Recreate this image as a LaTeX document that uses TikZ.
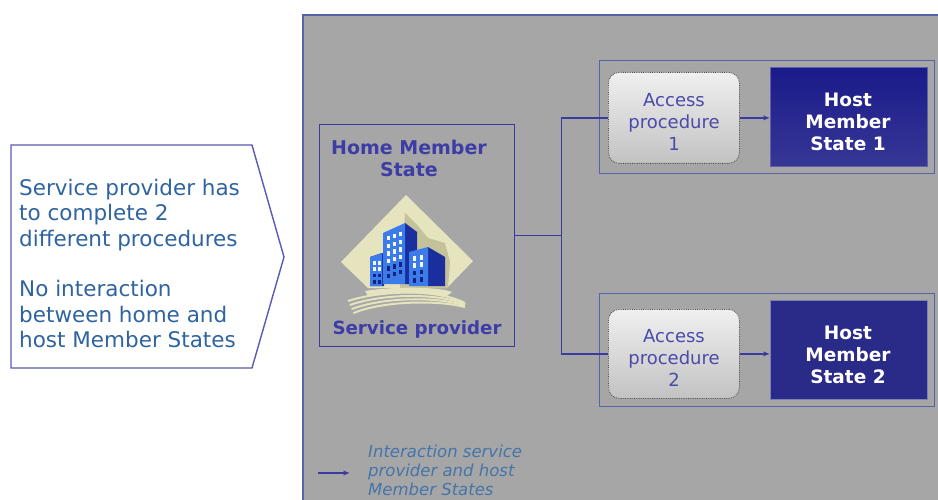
\documentclass[tikz,border=0pt]{standalone}
\usepackage{fontspec}
\setmainfont{DejaVu Sans}
\usetikzlibrary{arrows.meta}
\definecolor{panelgray}{HTML}{A6A6A6}
\definecolor{panelblue}{HTML}{5563A8}
\definecolor{linkblue}{HTML}{3A3AA0}
\definecolor{txtblue}{HTML}{2F64A0}
\definecolor{homeblue}{HTML}{3D3DA5}
\definecolor{accblue}{HTML}{4A4AAA}
\definecolor{navyA}{HTML}{1A1A8A}
\definecolor{navyB}{HTML}{2A2A88}
\definecolor{beige}{HTML}{E6E4BE}
\definecolor{olive}{HTML}{C4C29A}
\definecolor{bldlight}{HTML}{3B7BEA}
\definecolor{blddark}{HTML}{1A2E9E}
\definecolor{winlit}{HTML}{F4F8FF}
\definecolor{windark}{HTML}{13247E}
\tikzset{
  link/.style={draw=linkblue, line width=1.4pt},
  arrowlink/.style={link, -{Latex[length=6.5pt,width=5.5pt]}},
  groupbox/.style={draw=panelblue, line width=1.2pt, anchor=north west, inner sep=0pt},
  accbox/.style={draw=black!70, densely dotted, line width=0.8pt, rounded corners=11pt,
     top color=white!94!black, bottom color=white!76!black, anchor=north west, inner sep=0pt},
  hostbox/.style={anchor=north west, inner sep=0pt},
  acctext/.style={text=accblue, align=center, font=\fontsize{18}{22}\selectfont},
  hosttext/.style={text=white, align=center, font=\bfseries\fontsize{18.5}{22}\selectfont},
}
\begin{document}
\begin{tikzpicture}[x=1pt,y=-1pt]
\useasboundingbox (0,0) rectangle (938,500);
% panel
\fill[panelgray] (303,15) rectangle (938,500);
\draw[panelblue, line width=1.2pt] (303,500) -- (303,15) -- (938,15);
% callout
\draw[draw=homeblue!85, line width=1.4pt, fill=white] (11,145) -- (252,145) -- (284,257) -- (252,368) -- (11,368) -- cycle;
\node[anchor=north west, inner sep=0pt, align=left, text=txtblue, font=\fontsize{21.5}{25.3}\selectfont] (note) at (19,179)
 {Service provider has\\to complete 2\\different procedures\\[25.3pt]No interaction\\between home and\\host Member States};
% home box
\node[draw=linkblue, line width=1.3pt, minimum width=195pt, minimum height=222pt, anchor=north west, inner sep=0pt] (home) at (319,124) {};
\node[text=homeblue, align=center, font=\bfseries\fontsize{19}{22}\selectfont] (hometitle) at (409,158) {Home Member\\State};
\node[text=homeblue, font=\bfseries\fontsize{18.2}{20}\selectfont] (sp) at (417,329) {Service provider};
% building icon
\fill[beige] (406,195) -- (473,261) -- (447,288) -- (368,288) -- (341,262) -- cycle;
\fill[olive] (405,213) -- (418,226) -- (428,238) -- (445,243) -- (450,262) -- (448,288) -- (400,288) -- cycle;
% left building
\fill[blddark] (370,257) -- (382,253) -- (384,254) -- (384,286) -- (370,286) -- cycle;
\fill[bldlight] (370,257) -- (382,253) -- (382,286) -- (370,286) -- cycle;
\foreach \r in {0,1,2,3}{ \foreach \c in {0,1}{
  \pgfmathsetmacro{\wc}{\r<2 ? "winlit" : "windark"}
  \fill[\wc] (372.5+\c*5.5,261+\r*6.3) rectangle ++(3,3.8); } }
% middle building
\fill[blddark] (405,223) -- (417,232) -- (417,284) -- (405,284) -- cycle;
\fill[bldlight] (383,233) -- (405,223) -- (405,284) -- (383,284) -- cycle;
\foreach \r in {0,1,2,3,4,5}{ \foreach \c in {0,1,2}{
  \pgfmathsetmacro{\wc}{\r<4 ? "winlit" : "windark"}
  \fill[\wc] (386.5+\c*6.2,236+\r*7.6-\c*2) rectangle ++(3.4,4.4); } }
% right building
\fill[blddark] (428,247) -- (445,257) -- (445,286) -- (428,286) -- cycle;
\fill[bldlight] (409,252) -- (428,247) -- (428,286) -- (409,286) -- cycle;
\foreach \r in {0,1,2,3}{ \foreach \c in {0,1}{
  \pgfmathsetmacro{\wc}{\r<2 ? "winlit" : "windark"}
  \fill[\wc] (412.5+\c*7,256+\r*7.3-\c*1) rectangle ++(3.6,4.6); } }
% ground stripes
\fill[beige] (365,291) .. controls (395,286) and (440,287) .. (452,292) -- (447,296) .. controls (430,292) and (395,292) .. (368,296) -- cycle;
\foreach \o in {0,4.5,9,13.5}{
  \draw[beige, line width=2pt] (348+\o*0.4,301+\o*0.9) .. controls (382,290+\o*0.8) and (438,289+\o*0.8) .. (465,303+\o*0.3);
}
% group boxes
\node[groupbox, minimum width=335pt, minimum height=113pt] (grp1) at (599,60) {};
\node[groupbox, minimum width=335pt, minimum height=113pt] (grp2) at (599,293) {};
% access boxes
\node[accbox, minimum width=131pt, minimum height=91pt] (acc1) at (608,72) {};
\node[accbox, minimum width=131pt, minimum height=89pt] (acc2) at (608,309) {};
\node[acctext] (acc1t) at (674,122) {Access\\procedure\\1};
\node[acctext] (acc2t) at (674,358) {Access\\procedure\\2};
% host boxes
\node[hostbox, top color=navyA, bottom color=navyA!85!white!70!navyB, draw=navyA!70!white, line width=0.8pt, minimum width=157pt, minimum height=99pt] (host1) at (770,67) {};
\node[hostbox, fill=navyB, draw=panelblue!80!white, line width=1pt, minimum width=157pt, minimum height=99pt] (host2) at (770,300) {};
\node[hosttext] (host1t) at (848,122) {Host\\Member\\State 1};
\node[hosttext] (host2t) at (848,355) {Host\\Member\\State 2};
% connectors
\draw[link] (home.east) -- ++(46,0) coordinate (split);
\draw[link] (split) |- (acc1.west);
\draw[link] (split) |- (acc2.west);
\draw[arrowlink] (acc1.east) -- (acc1.east -| host1.west);
\draw[arrowlink] (acc2.east) -- (acc2.east -| host2.west);
% legend
\coordinate (legA) at (318,473);
\coordinate (legB) at (350,473);
\draw[arrowlink] (legA) -- (legB);
\node[anchor=north west, inner sep=0pt, align=left, text=txtblue!90!white, font=\itshape\fontsize{16.5}{19}\selectfont] (legend) at (368,445) {Interaction service\\provider and host\\Member States};
\end{tikzpicture}
\end{document}
